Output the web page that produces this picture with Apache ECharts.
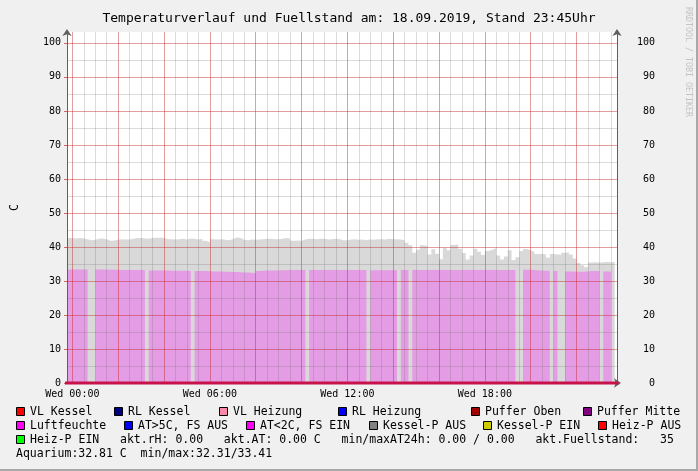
<!DOCTYPE html>
<html><head><meta charset="utf-8">
<script src="https://cdn.jsdelivr.net/npm/echarts@6/dist/echarts.min.js"></script>
<style>html,body{margin:0;padding:0;background:#f0f0f0}#c{width:698px;height:471px}</style>
</head><body><div id="c"></div>
<script>
// ---------------- DATA ----------------
const titleText = 'Temperaturverlauf und Fuellstand am: 18.09.2019, Stand 23:45Uhr';
const yAxisName = 'C';
const watermark = 'RRDTOOL / TOBI OETIKER';
// samples every 10 minutes, first sample at 23:40 of the previous day (-20 min)
const startMinute = -20;
const stepMinutes = 10;
const fuellstand = [
  42.6, 42.6, 42.5, 42.6, 42.5, 42.3, 42.0, 42.1, 42.4, 42.5,
  42.3, 41.8, 41.9, 42.1, 42.3, 42.2, 42.2, 42.4, 42.6, 42.6,
  42.5, 42.4, 42.6, 42.7, 42.7, 42.6, 42.3, 42.3, 42.2, 42.3,
  42.4, 42.2, 42.5, 42.4, 42.2, 42.4, 41.8, 41.4, 42.3, 42.2,
  42.3, 42.1, 42.0, 42.3, 42.8, 42.6, 42.1, 42.0, 42.2, 42.1,
  42.2, 42.3, 42.4, 42.4, 42.3, 42.3, 42.4, 42.6, 42.5, 41.8,
  41.9, 41.8, 42.2, 42.4, 42.4, 42.3, 42.4, 42.4, 42.2, 42.3,
  42.4, 42.3, 42.0, 42.0, 42.2, 42.3, 42.1, 42.2, 42.0, 42.2,
  42.1, 42.3, 42.3, 42.2, 42.4, 42.3, 42.3, 42.2, 42.0, 41.2,
  40.5, 38.3, 39.2, 40.5, 40.3, 37.8, 39.3, 38.0, 36.4, 39.8,
  39.0, 40.6, 40.8, 39.5, 38.2, 36.3, 37.5, 39.5, 38.6, 37.6,
  38.8, 39.2, 39.7, 37.5, 36.3, 37.2, 39.0, 36.2, 37.0, 38.8,
  39.4, 39.0, 38.5, 37.9, 38.0, 37.8, 36.8, 37.9, 37.8, 37.7,
  38.3, 38.4, 37.8, 36.6, 35.3, 34.6, 34.0, 35.4, 35.5, 35.4,
  35.5, 35.6, 35.5, 35.6, 35.4
];
const aquarium = [
  33.4, 33.4, 33.4, 33.4, 33.4, 33.4, 0, 0,
  33.35, 33.35, 33.3, 33.3, 33.3, 33.3, 33.25, 33.25, 33.2, 33.2, 33.2, 33.2, 33.15,
  0,
  33.1, 33.1, 33.1, 33.05, 33.05, 33.0, 33.0, 33.0, 33.0, 33.0, 32.95,
  0,
  32.95, 32.9, 32.9, 32.85, 32.8, 32.8, 32.75, 32.7, 32.7, 32.6, 32.6, 32.55, 32.5, 32.5, 32.4, 32.3,
  32.9, 33.0, 33.1, 33.1, 33.1, 33.1, 33.15, 33.15, 33.2, 33.2, 33.2, 33.2, 33.2,
  0,
  33.2, 33.2, 33.2, 33.2, 33.2, 33.2, 33.2, 33.2, 33.2, 33.2, 33.2, 33.2, 33.2, 33.2, 33.2,
  0,
  33.15, 33.15, 33.15, 33.15, 33.15, 33.15, 33.15,
  0,
  33.2, 33.2,
  0,
  33.2, 33.2, 33.2, 33.2, 33.2, 33.2, 33.2, 33.2, 33.2, 33.2, 33.2, 33.2, 33.2, 33.2,
  33.2, 33.2, 33.2, 33.2, 33.2, 33.2, 33.2, 33.2, 33.2, 33.2, 33.2, 33.2, 33.2,
  0, 0,
  33.3, 33.3, 33.2, 33.1, 33.1, 33.0, 33.0,
  0,
  32.9,
  0, 0,
  32.8, 32.8, 32.7, 32.7, 32.7, 32.8, 32.9, 32.9, 32.9,
  0,
  32.8, 32.8,
  0, 0
];
const zeroTimes = [-20, 1430];
const zeroValues = [0, 0];
const labelTimes = [0, 360, 720, 1080];
const labelTexts = ['Wed 00:00', 'Wed 06:00', 'Wed 12:00', 'Wed 18:00'];
const legendNames = ['VL Kessel', 'RL Kessel', 'VL Heizung', 'RL Heizung', 'Puffer Oben', 'Puffer Mitte',
  'Luftfeuchte', 'AT>5C, FS AUS', 'AT<2C, FS EIN', 'Kessel-P AUS', 'Kessel-P EIN', 'Heiz-P AUS', 'Heiz-P EIN'];
const statusParts = ['akt.rH: 0.00', 'akt.AT: 0.00 C', 'min/maxAT24h: 0.00 / 0.00', 'akt.Fuellstand:   35'];
const aquariumLine = 'Aquarium:32.81 C  min/max:32.31/33.41';

// ---------------- STYLE / LAYOUT ----------------
const legendColors = ['#ff0000', '#000080', '#ff88aa', '#0000ff', '#a00000', '#800080',
  '#ff00ff', '#0000ff', '#ff00ff', '#808080', '#cccc00', '#ff0000', '#00ff00'];
const legendPos = [[16, 412], [114, 412], [219, 412], [338, 412], [471, 412], [583, 412],
  [16, 426], [124, 426], [246, 426], [369, 426], [483, 426], [598, 426], [16, 440]];
const MONO = '"DejaVu Sans Mono", monospace';
const X_MIN = -14, X_MAX = 1426;
const majorTimes = [], minorTimes = [];
for (let m = 0; m <= 1410; m += 30) { minorTimes.push(m); if (m % 120 === 0) majorTimes.push(m); }

const times = fuellstand.map((_, i) => startMinute + i * stepMinutes);
const labelMap = {};
labelTimes.forEach((t, i) => labelMap[t] = labelTexts[i]);

const graphics = [];
legendNames.forEach((n, i) => {
  const [sx, cy] = legendPos[i];
  graphics.push({ type: 'rect', silent: true, z: 100,
    shape: { x: sx + 0.5, y: cy - 4.5, width: 8, height: 8 },
    style: { fill: legendColors[i], stroke: '#000', lineWidth: 1 } });
  const txt = (i === 12) ? n + '   ' + statusParts.join('   ') : n;
  graphics.push({ type: 'text', silent: true, z: 100, x: sx + 14, y: cy,
    style: { text: txt, font: '11.5px ' + MONO, fill: '#000', verticalAlign: 'middle', align: 'left' } });
});
graphics.push({ type: 'text', silent: true, z: 100, x: 16, y: 454,
  style: { text: aquariumLine, font: '11.5px ' + MONO, fill: '#000', verticalAlign: 'middle', align: 'left' } });
graphics.push({ type: 'text', silent: true, z: 100, x: 688, y: 7, rotation: -Math.PI / 2,
  style: { text: watermark, font: '8.3px ' + MONO, fill: '#c4c4c4', verticalAlign: 'middle', align: 'left' } });
graphics.push({ type: 'rect', silent: true, z: 100, shape: { x: 696, y: 0, width: 2, height: 471 }, style: { fill: '#a8a8a8' } });
graphics.push({ type: 'rect', silent: true, z: 100, shape: { x: 0, y: 469, width: 698, height: 2 }, style: { fill: '#a8a8a8' } });

const chart = echarts.init(document.getElementById('c'), null, { renderer: 'canvas' });
chart.setOption({
  animation: false,
  backgroundColor: '#f0f0f0',
  title: { text: titleText, left: 'center', top: 7,
    textStyle: { fontFamily: MONO, fontSize: 13, fontWeight: 'normal', color: '#000' } },
  grid: { left: 67, right: 81, top: 32, bottom: 88, show: true, backgroundColor: '#ffffff', borderWidth: 0,
    containLabel: false, outerBoundsMode: 'none' },
  graphic: graphics,
  xAxis: [
    { type: 'value', min: X_MIN, max: X_MAX, position: 'bottom', z: 4,
      axisLine: { show: true, onZero: false, lineStyle: { color: '#606060', width: 1 },
        symbol: ['none', 'arrow'], symbolSize: [7, 7], symbolOffset: [0, 4] },
      axisTick: { show: false, customValues: majorTimes },
      axisLabel: { customValues: labelTimes, formatter: v => labelMap[v] || '',
        fontFamily: MONO, fontSize: 10, color: '#000', margin: 6 },
      splitLine: { show: true, lineStyle: { color: 'rgba(255,0,0,0.28)', width: 1 } } },
    { type: 'value', min: X_MIN, max: X_MAX, position: 'top', z: 3,
      axisLine: { show: false, onZero: false }, axisLabel: { show: false },
      axisTick: { show: false, customValues: minorTimes },
      splitLine: { show: true, lineStyle: { color: 'rgba(110,110,110,0.25)', width: 1 } } }
  ],
  yAxis: [
    { type: 'value', min: 0, max: 103.2, interval: 10, position: 'left', z: 4,
      name: yAxisName, nameLocation: 'middle', nameGap: 46, nameRotate: 90,
      nameTextStyle: { fontFamily: MONO, fontSize: 11.5, color: '#000' },
      axisLine: { show: true, onZero: false, lineStyle: { color: '#606060', width: 1 },
        symbol: ['none', 'arrow'], symbolSize: [7, 7], symbolOffset: [0, 3] },
      axisTick: { show: true, length: 3, lineStyle: { color: 'rgba(200,0,0,0.6)' } },
      axisLabel: { fontFamily: MONO, fontSize: 10, color: '#000', margin: 6, showMaxLabel: false },
      splitLine: { show: true, showMaxLine: false, lineStyle: { color: 'rgba(255,0,0,0.28)', width: 1 } } },
    { type: 'value', min: 0, max: 103.2, interval: 5, position: 'right', z: 3,
      axisLine: { show: true, onZero: false, lineStyle: { color: '#606060', width: 1 },
        symbol: ['none', 'arrow'], symbolSize: [7, 7], symbolOffset: [0, 3] },
      axisTick: { show: false },
      axisLabel: { fontFamily: MONO, fontSize: 10, color: '#000', margin: 38, align: 'right',
        showMaxLabel: false, formatter: v => (v % 10 === 0 ? String(v) : '') },
      splitLine: { show: true, showMaxLine: false, lineStyle: { color: 'rgba(110,110,110,0.25)', width: 1 } } }
  ],
  series: [
    { name: 'Fuellstand', type: 'line', step: 'end', xAxisIndex: 0, yAxisIndex: 0, z: 1,
      showSymbol: false, silent: true, lineStyle: { width: 0 },
      areaStyle: { color: '#d9d9d9', opacity: 1 },
      data: times.map((t, i) => [t, fuellstand[i]]) },
    { name: 'Aquarium', type: 'line', step: 'end', xAxisIndex: 0, yAxisIndex: 0, z: 2,
      showSymbol: false, silent: true, lineStyle: { width: 0 },
      areaStyle: { color: '#e49ce4', opacity: 1 },
      data: times.map((t, i) => [t, aquarium[i]]) },
    { name: 'Null', type: 'line', xAxisIndex: 0, yAxisIndex: 0, z: 10, clip: false,
      showSymbol: false, silent: true, lineStyle: { width: 3, color: '#c8124a' },
      data: zeroTimes.map((t, i) => [t, zeroValues[i]]) }
  ]
});
</script></body></html>
